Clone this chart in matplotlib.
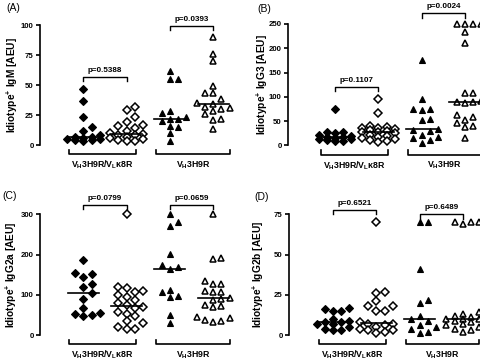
import numpy as np
import matplotlib
matplotlib.use("Agg")
import matplotlib.pyplot as plt
from matplotlib.transforms import blended_transform_factory

plt.rcParams['font.family'] = ['Liberation Sans', 'DejaVu Sans']
plt.rcParams['font.weight'] = 'bold'
plt.rcParams['mathtext.fontset'] = 'custom'
plt.rcParams['mathtext.rm'] = 'Liberation Sans:bold'
plt.rcParams['mathtext.it'] = 'Liberation Sans:bold'
plt.rcParams['mathtext.bf'] = 'Liberation Sans:bold'

# groups: dKI filled diamond, dKI open diamond, sKI filled triangle, sKI open triangle
group_labels = [r"V$_{H}$3H9R/V$_{L}$κ8R", r"V$_{H}$3H9R"]

igm = [
    [47, 37, 23, 15, 12, 8, 7, 7, 6, 5, 5, 4, 4, 3],
    [32, 29, 23, 19, 17, 16, 14, 12, 10, 9, 8, 8, 7, 6, 5, 4, 3, 3],
    [62, 55, 55, 28, 27, 23, 22, 22, 20, 16, 15, 10, 3],
    [90, 76, 70, 49, 43, 43, 38, 35, 34, 32, 31, 30, 28, 26, 22, 21, 13],
]
igg3 = [
    [75, 28, 27, 25, 22, 19, 18, 17, 15, 13, 12, 10, 9, 8],
    [95, 67, 40, 37, 36, 35, 33, 31, 29, 28, 27, 25, 22, 20, 18, 15, 12, 10, 8, 7],
    [176, 96, 75, 74, 73, 55, 53, 33, 32, 30, 22, 18, 15, 10, 5],
    [250, 250, 250, 250, 234, 210, 107, 107, 92, 90, 90, 88, 62, 58, 53, 45, 40, 38, 15],
]
igg2a = [
    [186, 155, 152, 145, 126, 120, 104, 89, 68, 55, 53, 50, 48],
    [300, 120, 117, 110, 106, 100, 95, 88, 80, 75, 70, 68, 58, 53, 48, 35, 30, 20, 16, 14],
    [300, 280, 270, 202, 174, 170, 164, 112, 108, 97, 94, 49, 31],
    [300, 192, 188, 134, 128, 126, 110, 108, 106, 92, 90, 88, 75, 72, 70, 45, 42, 38, 35, 33],
]
igg2b = [
    [17, 16, 15, 15, 10, 9, 8, 8, 7, 7, 5, 4, 3, 3],
    [70, 27, 26, 21, 18, 18, 15, 15, 8, 7, 7, 6, 5, 4, 3, 3, 2, 1],
    [70, 70, 41, 22, 20, 12, 10, 9, 6, 5, 4, 2, 1],
    [70, 70, 70, 69, 14, 13, 12, 11, 10, 10, 10, 9, 8, 7, 6, 5, 4, 3, 2],
]

panels = [
    ("(A)", "IgM", igm, 100, [0, 25, 50, 75, 100], ["p=0.5388", "p=0.0393"], [57, 99]),
    ("(B)", "IgG3", igg3, 250, [0, 50, 100, 150, 200, 250], ["p=0.1107", "p=0.0024"], [120, 272]),
    ("(C)", "IgG2a", igg2a, 300, [0, 100, 200, 300], ["p=0.0799", "p=0.0659"], [323, 323]),
    ("(D)", "IgG2b", igg2b, 75, [0, 25, 50, 75], ["p=0.6521", "p=0.6489"], [77.7, 75]),
]

W, H = 481, 362
# axes boxes in pixels: left, top(y=max), bottom(y=0)
boxes = [(40, 25, 145), (288, 24, 145.3), (40, 214.3, 335), (289, 214.3, 335)]
x0px = [43.3, 47, 43.3, 44]
label_pos = [(13, 8), (264, 9), (10, 196), (262, 197)]
ylab_x = [12, 262, 11, 258]

markers = [dict(marker='D', ms=4.0, mfc='black', mec='black', mew=0.8),
           dict(marker='D', ms=4.0, mfc='white', mec='black', mew=1.1),
           dict(marker='^', ms=4.8, mfc='black', mec='black', mew=0.8),
           dict(marker='^', ms=4.8, mfc='white', mec='black', mew=1.1)]


def swarm(vals, ypx, step=0.19, gap=5.0):
    # deterministic beeswarm limited to 5 columns
    slots = [0.0, step, -step, 2 * step, -2 * step]
    order = np.argsort(vals)
    placed = []
    offs = np.zeros(len(vals))
    for i in order:
        y = vals[i] * ypx
        best, bestd = 0.0, -1
        for c in slots:
            d = min([np.hypot((c - o) / step * 7, y - yy) for o, yy in placed] or [99])
            if d >= gap * 1.4:
                best = c
                break
            if d > bestd:
                best, bestd = c, d
        offs[i] = best
        placed.append((best, y))
    return offs


fig = plt.figure(figsize=(W / 100, H / 100), dpi=100)
unit = 43.3
for p, (tag, iso, data, ymax, ticks, pvals, pys) in enumerate(panels):
    left, top, bot = boxes[p]
    aw = 192
    ah = bot - top
    ax = fig.add_axes([left / W, (H - bot) / H, aw / W, ah / H])
    xl = -x0px[p] / unit
    ax.set_xlim(xl, xl + aw / unit)
    ax.set_ylim(0, ymax)
    ypx = ah / ymax
    for g in range(4):
        v = np.array(data[g], dtype=float)
        off = swarm(v, ypx)
        ax.plot(g + off, v, ls='none', clip_on=False, zorder=3, **markers[g])
        ax.plot([g - 0.36, g + 0.36], [np.median(v)] * 2, color='black', lw=1.2, zorder=4)
    for s in ['top', 'right', 'bottom']:
        ax.spines[s].set_visible(False)
    ax.spines['left'].set_linewidth(1.2)
    ax.set_xticks([])
    ax.set_yticks(ticks)
    ax.tick_params(axis='y', length=3, width=1.2, labelsize=5.6, pad=1.5)
    for t in ax.get_yticklabels():
        t.set_fontweight('bold')
    # p-value brackets
    h = ymax * 0.035
    for j in range(2):
        a, b = 2 * j, 2 * j + 1
        yb = pys[j]
        ax.plot([a, a, b, b], [yb - h, yb, yb, yb - h], color='black', lw=1.0, clip_on=False)
        ax.text((a + b) / 2, yb + ymax * 0.025, pvals[j], ha='center', va='bottom',
                fontsize=5.8, fontweight='bold')
    # group brackets below
    tr = blended_transform_factory(ax.transData, ax.transAxes)
    for j, (ga, gb) in enumerate([(-0.32, 1.22), (1.68, 3.38)]):
        ax.plot([ga, ga, gb, gb], [-0.04, -0.077, -0.077, -0.04], color='black', lw=1.2,
                transform=tr, clip_on=False)
        ax.text((ga + gb) / 2, -0.165, group_labels[j], transform=tr, ha='center', va='center',
                fontsize=6.3, fontweight='bold')
    lx, ly = label_pos[p]
    fig.text(lx / W, 1 - ly / H, tag, ha='center', va='center', fontsize=7.5, fontweight='normal')
    fig.text(ylab_x[p] / W, 1 - (top + bot) / 2 / H, "Idiotype$^{+}$ " + iso + " [AEU]",
             rotation=90, ha='center', va='center', fontsize=7.3, fontweight='bold')

fig.savefig("out.png", dpi=100)
